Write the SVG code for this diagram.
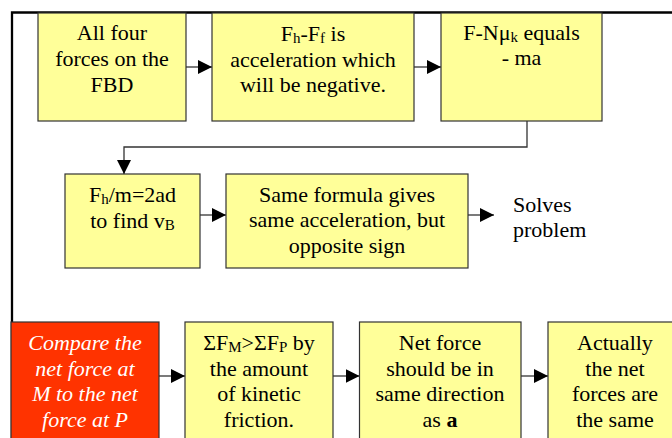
<svg xmlns="http://www.w3.org/2000/svg" width="672" height="438" viewBox="0 0 672 438">
<style>
.box{fill:#FFFF99;stroke:#333333;stroke-width:1.2}
.red{fill:#FF3300;stroke:#333333;stroke-width:1.2}
text{font-size:22px;fill:#000;text-anchor:middle}
.w{fill:#fff;font-style:italic}
.sub{font-size:15px}
.plain{text-anchor:start}
.conn{fill:none;stroke:#333333;stroke-width:1.3}
</style>
<defs>
<marker id="arr" markerUnits="userSpaceOnUse" markerWidth="14" markerHeight="14" refX="14" refY="7" orient="auto">
<path d="M0,0 L14,7 L0,14 z" fill="#000"/>
</marker>
</defs>
<rect width="672" height="438" fill="#fff"/>
<g id="frame">
<path d="M12,438 V12.5 H672" fill="none" stroke="#000" stroke-width="2.3"/>
</g>
<g id="connectors">
<line class="conn" x1="186" y1="67" x2="212" y2="67" marker-end="url(#arr)"/>
<line class="conn" x1="414" y1="67" x2="441" y2="67" marker-end="url(#arr)"/>
<polyline class="conn" points="527,121 527,147 124,147 124,174" marker-end="url(#arr)"/>
<line class="conn" x1="200" y1="215" x2="226" y2="215" marker-end="url(#arr)"/>
<line class="conn" x1="468" y1="215" x2="494" y2="215" marker-end="url(#arr)"/>
<line class="conn" x1="159" y1="376" x2="185" y2="376" marker-end="url(#arr)"/>
<line class="conn" x1="333" y1="376" x2="359.5" y2="376" marker-end="url(#arr)"/>
<line class="conn" x1="521" y1="376" x2="548" y2="376" marker-end="url(#arr)"/>
</g>
<g font-family="Liberation Serif, Tinos, Times New Roman, DejaVu Serif, serif">
<g id="n1">
<rect class="box" x="38" y="13" width="148" height="108"/>
<text x="112" y="40">All four</text>
<text x="112" y="66">forces on the</text>
<text x="112" y="92">FBD</text>
</g>
<g id="n2">
<rect class="box" x="212" y="13" width="202" height="108"/>
<text x="313" y="41">F<tspan class="sub" dy="2">h</tspan><tspan dy="-2">-F</tspan><tspan class="sub" dy="2">f</tspan><tspan dy="-2"> is</tspan></text>
<text x="313" y="67">acceleration which</text>
<text x="313" y="92">will be negative.</text>
</g>
<g id="n3">
<rect class="box" x="441" y="13" width="161" height="108"/>
<text x="521.5" y="40">F-Nμ<tspan class="sub" dy="2">k</tspan><tspan dy="-2"> equals</tspan></text>
<text x="521.5" y="65">- ma</text>
</g>
<g id="n4">
<rect class="box" x="65" y="174" width="135" height="94"/>
<text x="132.5" y="202">F<tspan class="sub" dy="2">h</tspan><tspan dy="-2">/m=2ad</tspan></text>
<text x="132.5" y="228">to find v<tspan class="sub" dy="2">B</tspan></text>
</g>
<g id="n5">
<rect class="box" x="226" y="174" width="242" height="94"/>
<text x="347" y="202">Same formula gives</text>
<text x="347" y="227">same acceleration, but</text>
<text x="347" y="253">opposite sign</text>
</g>
<g id="n6">
<text class="plain" x="513" y="212">Solves</text>
<text class="plain" x="513" y="237">problem</text>
</g>
<g id="n7">
<rect class="red" x="11" y="322" width="148" height="130"/>
<text class="w" x="85" y="350">Compare the</text>
<text class="w" x="85" y="376">net force at</text>
<text class="w" x="85" y="401">M to the net</text>
<text class="w" x="85" y="427">force at P</text>
</g>
<g id="n8">
<rect class="box" x="185" y="322" width="148" height="130"/>
<text x="259" y="350">ΣF<tspan class="sub" dy="2">M</tspan><tspan dy="-2">&gt;ΣF</tspan><tspan class="sub" dy="2">P</tspan><tspan dy="-2"> by</tspan></text>
<text x="259" y="376">the amount</text>
<text x="259" y="401">of kinetic</text>
<text x="259" y="427">friction.</text>
</g>
<g id="n9">
<rect class="box" x="359.5" y="322" width="161.5" height="130"/>
<text x="440" y="350">Net force</text>
<text x="440" y="376">should be in</text>
<text x="440" y="401">same direction</text>
<text x="440" y="427">as <tspan font-weight="bold">a</tspan></text>
</g>
<g id="n10">
<rect class="box" x="548" y="322" width="134" height="130"/>
<text x="615" y="350">Actually</text>
<text x="615" y="376">the net</text>
<text x="615" y="401">forces are</text>
<text x="615" y="427">the same</text>
</g>
</g>
</svg>
